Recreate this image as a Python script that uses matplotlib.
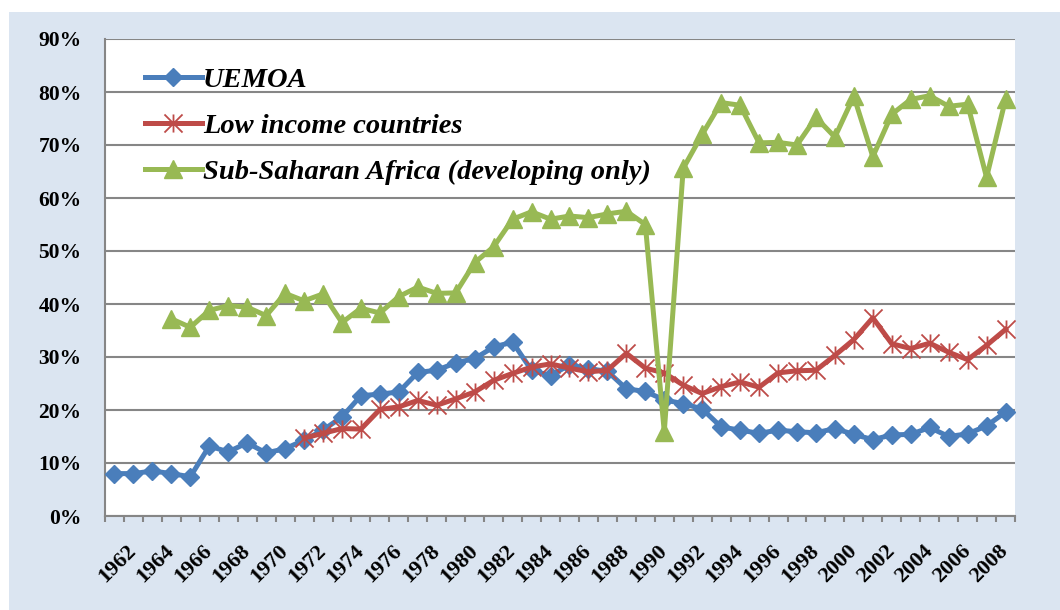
import numpy as np
import matplotlib
matplotlib.use("Agg")
import matplotlib.pyplot as plt
from matplotlib.patches import Rectangle
from matplotlib.path import Path

# --- data (share, %) ---
years = list(range(1961, 2009))
uemoa = [8.0, 8.0, 8.5, 8.0, 7.4, 13.2, 12.1, 13.8, 11.9, 12.7,
         14.3, 16.2, 18.7, 22.7, 23.0, 23.4, 27.1, 27.5, 28.9, 29.7,
         31.9, 32.8, 27.5, 26.5, 28.5, 27.8, 27.3, 24.0, 23.5, 21.9,
         21.2, 20.2, 16.8, 16.2, 15.6, 16.2, 15.9, 15.7, 16.5, 15.4,
         14.4, 15.3, 15.4, 16.7, 15.0, 15.5, 17.0, 19.6]
low_income = [None] * 10 + [
    14.7, 15.6, 16.5, 16.4, 20.1, 20.6, 21.8, 20.9, 22.1, 23.4,
    25.6, 26.9, 28.1, 28.7, 27.9, 27.2, 27.5, 30.7, 27.9, 27.0,
    24.7, 23.1, 24.4, 25.3, 24.3, 27.0, 27.4, 27.5, 30.3, 33.3,
    37.4, 32.5, 31.6, 32.6, 30.9, 29.5, 32.2, 35.2]
ssa = [None] * 3 + [
    37.2, 35.6, 38.8, 39.7, 39.4, 37.8, 42.0, 40.6, 41.9, 36.5,
    39.2, 38.3, 41.4, 43.2, 42.0, 42.1, 47.8, 50.8, 56.0, 57.4,
    56.0, 56.6, 56.3, 57.0, 57.5, 55.0, 15.9, 65.6, 72.0, 78.0,
    77.5, 70.4, 70.5, 70.0, 75.2, 71.5, 79.2, 67.8, 75.8, 78.6,
    79.3, 77.3, 77.7, 63.9, 78.6]
series_names = ["UEMOA", "Low income countries", "Sub-Saharan Africa (developing only)"]
ytick_vals = [0, 10, 20, 30, 40, 50, 60, 70, 80, 90]
ytick_labels = ["0%", "10%", "20%", "30%", "40%", "50%", "60%", "70%", "80%", "90%"]
xlabel_years = list(range(1962, 2009, 2))


def to_arr(vals):
    return np.array([np.nan if v is None else v for v in vals], dtype=float)


grey = "#868686"
serif = ["Liberation Serif", "DejaVu Serif"]

fig = plt.figure(figsize=(10.6, 6.1), dpi=100)
fig.patch.set_facecolor("white")
fig.patches.append(Rectangle((9 / 1060, 0), 1, (610 - 12) / 610, transform=fig.transFigure,
                             facecolor="#dbe5f1", edgecolor="none", zorder=-10))

ax = fig.add_axes([105 / 1060, 94 / 610, 910 / 1060, 477 / 610])
ax.set_facecolor("white")

x = np.arange(len(years))
star = Path([(0, -1), (0, 1), (-1, -1), (1, 1), (-1, 1), (1, -1)],
            [Path.MOVETO, Path.LINETO] * 3)

ax.plot(x, to_arr(uemoa), color="#4a7ebb", lw=3.6, marker="D", ms=9.5,
        mfc="#4a7ebb", mec="#4a7ebb", label=series_names[0], zorder=3)
ax.plot(x, to_arr(low_income), color="#be4b48", lw=3.6, marker=star, ms=13,
        mec="#be4b48", mew=1.3, label=series_names[1], zorder=4)
ax.plot(x, to_arr(ssa), color="#98b954", lw=3.6, marker="^", ms=13,
        mfc="#98b954", mec="#98b954", label=series_names[2], zorder=5)

ax.set_xlim(-0.5, len(years) - 0.5)
ax.set_ylim(0, 90)

# gridlines
ax.set_yticks(ytick_vals)
ax.set_yticklabels(ytick_labels, fontfamily=serif, fontweight="bold", fontsize=15.5)
ax.yaxis.grid(True, color=grey, lw=1.5)
ax.set_axisbelow(True)
ax.tick_params(axis="y", length=0, pad=17)

# category boundaries as tick marks, labels on even years
ax.set_xticks(np.arange(-0.5, len(years), 1.0))
ax.set_xticklabels([])
ax.tick_params(axis="x", which="major", length=4, width=1.5, color=grey, direction="out")
ax.set_xticks([years.index(y) for y in xlabel_years], minor=True)
ax.set_xticklabels([str(y) for y in xlabel_years], minor=True, rotation=45,
                   ha="right", va="center", rotation_mode="anchor",
                   fontfamily=serif, fontweight="bold", fontsize=16)
ax.tick_params(axis="x", which="minor", length=0, pad=23)

for side in ["top", "right"]:
    ax.spines[side].set_visible(False)
for side in ["left", "bottom"]:
    ax.spines[side].set_color(grey)
    ax.spines[side].set_linewidth(1.5)

leg = ax.legend(loc="upper left", bbox_to_anchor=(0.028, 0.972), frameon=False,
                prop={"family": serif, "weight": "bold", "style": "italic", "size": 20.5},
                handlelength=2.0, handletextpad=0.05, labelspacing=0.72, borderpad=0)

fig.savefig("out.png", dpi=100, facecolor=fig.get_facecolor())
